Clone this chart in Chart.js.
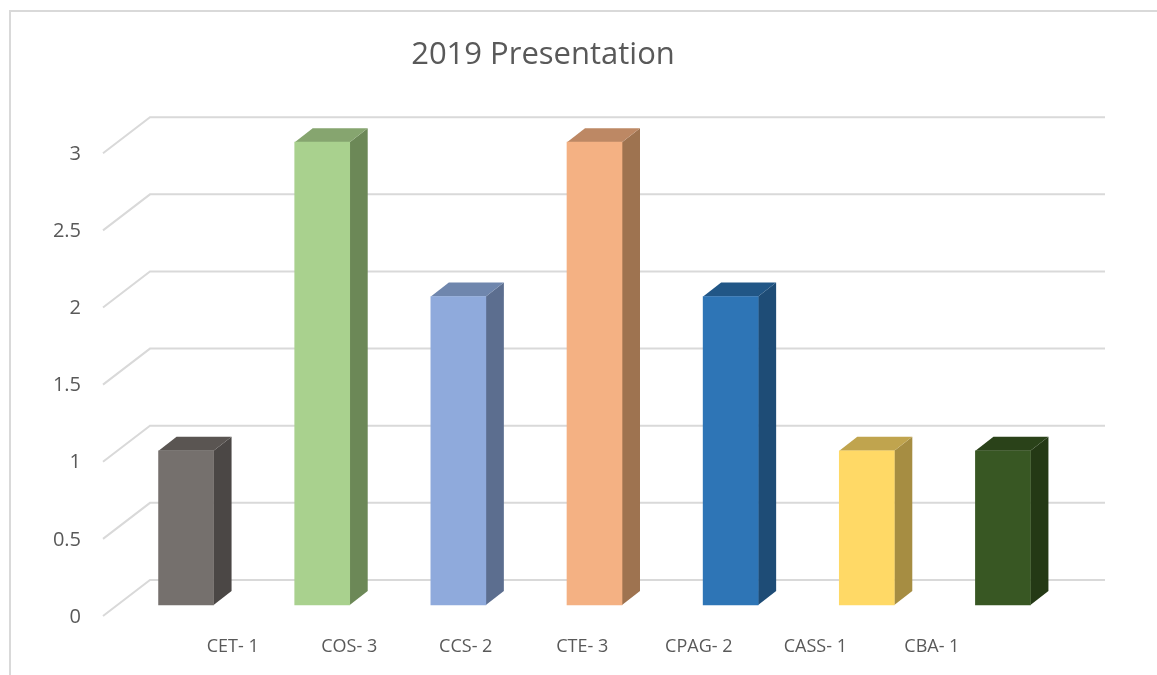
<!DOCTYPE html>
<html>
<head>
<meta charset="utf-8">
<style>
  html, body { margin: 0; background: #fff; overflow: hidden; }
  #wrap { position: relative; width: 1157px; height: 675px; }
  #frame { position: absolute; left: 9px; top: 10px; right: 0; bottom: 0; border-left: 2px solid #d9d9d9; border-top: 2px solid #d9d9d9; }
  canvas { position: absolute; left: 0; top: 0; }
</style>
<script src="https://cdn.jsdelivr.net/npm/chart.js@4"></script>
</head>
<body>
<div id="wrap">
  <div id="frame"></div>
  <canvas id="chart" width="1157" height="675"></canvas>
</div>
<script>
const categories = ['CET- 1', 'COS- 3', 'CCS- 2', 'CTE- 3', 'CPAG- 2', 'CASS- 1', 'CBA- 1']
const values = [1, 3, 2, 3, 2, 1, 1]
const gridValues = [0, 0.5, 1, 1.5, 2, 2.5, 3]

const frontColors = ['#75706d', '#a9d18e', '#8faadc', '#f4b183', '#2e75b6', '#ffd966', '#385723']
const sideColors = ['#4b4745', '#6c8857', '#5c6e8f', '#9e7350', '#1e4c76', '#a68d42', '#243915']
const topColors = ['#5a5552', '#86a56f', '#6f86ad', '#bd8864', '#215686', '#c0a44e', '#2a4219']

const textColor = '#595959'
const fontFamily = '"Open Sans", sans-serif'

// fake 3d: floor/back wall grid and the side + top faces of the bars
const walls = {
    id: 'walls',
    beforeDatasetsDraw(chart) {
        const {ctx, chartArea, scales} = chart
        ctx.save()
        ctx.strokeStyle = '#d9d9d9'
        ctx.lineWidth = 2
        gridValues.forEach(v => {
            const y = scales.y.getPixelForValue(v)
            ctx.beginPath()
            ctx.moveTo(chartArea.left - 15, y + 11)
            ctx.lineTo(chartArea.left + 32, y - 25)
            ctx.lineTo(chartArea.right + 34, y - 25)
            ctx.stroke()
        })
        const dx = 18, dy = 14
        chart.getDatasetMeta(0).data.forEach((bar, i) => {
            const l = bar.x - bar.width / 2, r = bar.x + bar.width / 2
            ctx.fillStyle = sideColors[i]
            ctx.beginPath()
            ctx.moveTo(r, bar.y)
            ctx.lineTo(r + dx, bar.y - dy)
            ctx.lineTo(r + dx, bar.base - dy)
            ctx.lineTo(r, bar.base)
            ctx.closePath()
            ctx.fill()
            ctx.fillStyle = topColors[i]
            ctx.beginPath()
            ctx.moveTo(l, bar.y)
            ctx.lineTo(l + dx, bar.y - dy)
            ctx.lineTo(r + dx, bar.y - dy)
            ctx.lineTo(r, bar.y)
            ctx.closePath()
            ctx.fill()
        })
        ctx.restore()
    }
}

new Chart(document.getElementById('chart'), {
    type: 'bar',
    plugins: [walls],
    data: {
        labels: categories,
        datasets: [{
            data: values,
            backgroundColor: frontColors,
            barThickness: 55,
            xAxisID: 'x',
            yAxisID: 'y'
        }]
    },
    options: {
        responsive: false,
        animation: false,
        layout: {padding: {left: 15, right: 86, top: 0, bottom: 0}},
        plugins: {
            legend: {display: false},
            tooltip: {enabled: false},
            title: {
                display: true,
                text: '2019 Presentation',
                color: textColor,
                font: {family: fontFamily, size: 31, weight: 'normal'},
                padding: {top: 37, bottom: 56}
            }
        },
        scales: {
            // these two place the bars
            x: {type: 'category', display: false},
            y: {type: 'linear', display: false, min: -0.1296, max: 3.0778},
            // these two only carry the labels, shifted like the 3d projection does
            xLabels: {
                type: 'linear',
                position: 'bottom',
                min: -0.4,
                max: 6.61,
                grid: {display: false, drawTicks: false},
                border: {display: false},
                afterFit: s => { s.height = 50 },
                ticks: {
                    stepSize: 1,
                    includeBounds: false,
                    autoSkip: false,
                    maxRotation: 0,
                    padding: 11,
                    color: textColor,
                    font: {family: fontFamily, size: 18},
                    callback: v => categories[v]
                }
            },
            yLabels: {
                type: 'linear',
                position: 'left',
                min: -0.0518,
                max: 3.1555,
                grid: {display: false, drawTicks: false},
                border: {display: false},
                afterFit: s => { s.width = 103 },
                ticks: {
                    stepSize: 0.5,
                    includeBounds: false,
                    padding: 37,
                    color: textColor,
                    font: {family: fontFamily, size: 20},
                    callback: v => String(v)
                }
            }
        }
    }
})
</script>
</body>
</html>
